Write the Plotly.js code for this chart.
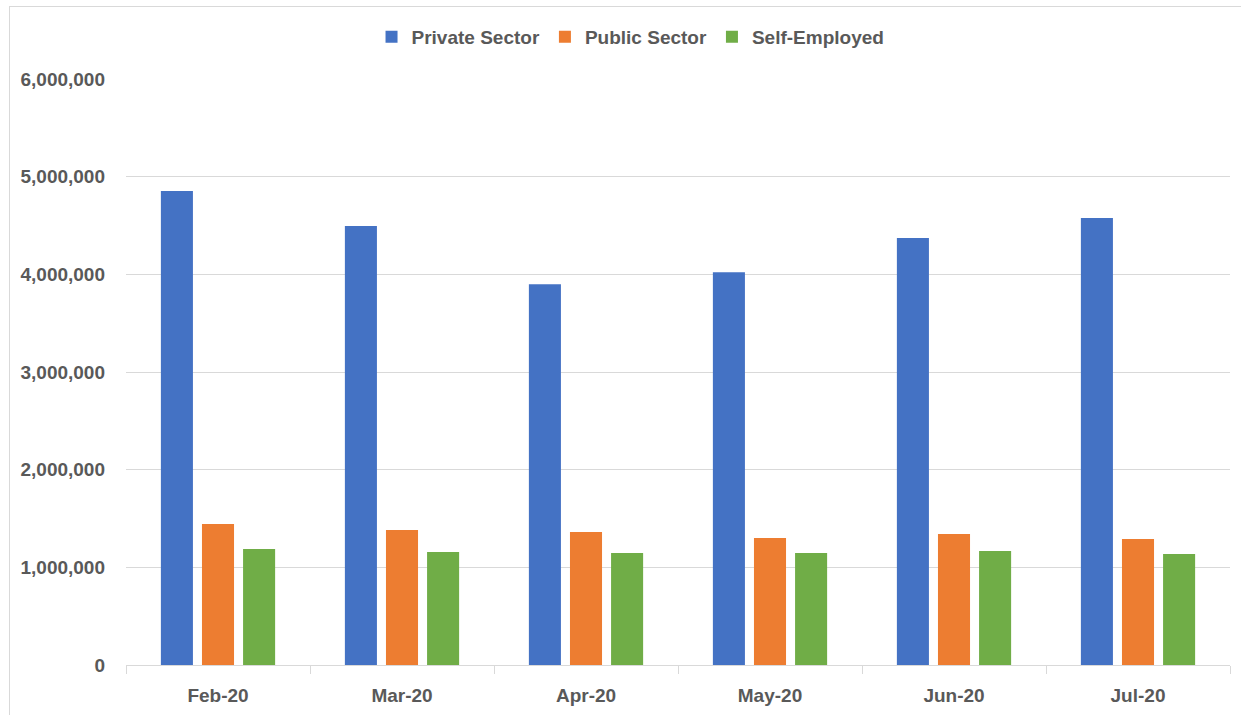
<!DOCTYPE html>
<html>
<head>
<meta charset="utf-8">
<script src="https://cdn.plot.ly/plotly-3.0.1.min.js"></script>
<style>
html,body{margin:0;padding:0;background:#fff;}
#frame{position:absolute;left:9px;top:6px;width:1300px;height:800px;border-left:1px solid #d9d9d9;border-top:1px solid #d9d9d9;pointer-events:none;}
#chart{position:absolute;left:0;top:0;width:1241px;height:715px;}
</style>
</head>
<body>
<div id="chart"></div>
<div id="frame"></div>
<script>
const months = ["Feb-20", "Mar-20", "Apr-20", "May-20", "Jun-20", "Jul-20"];
const privateSector = [4853000, 4495000, 3898000, 4022000, 4372000, 4577000];
const publicSector = [1444000, 1382000, 1362000, 1300000, 1341000, 1290000];
const selfEmployed = [1188000, 1157000, 1147000, 1147000, 1167000, 1136000];
const seriesNames = ["Private Sector", "Public Sector", "Self-Employed"];
const colors = ["#4472C4", "#ED7D31", "#70AD47"];

const font = {family: "Liberation Sans, Arial, sans-serif", size: 19, color: "#595959", weight: 700};

const traces = [privateSector, publicSector, selfEmployed].map((vals, i) => ({
  type: "bar",
  name: seriesNames[i],
  x: months,
  y: vals,
  marker: {color: colors[i], line: {width: 0}},
  hoverinfo: "x+y+name"
}));

const layout = {
  width: 1241,
  height: 715,
  margin: {l: 126, r: 11, t: 79, b: 50, pad: 0, autoexpand: false},
  paper_bgcolor: "#ffffff",
  plot_bgcolor: "#ffffff",
  font: font,
  barmode: "group",
  bargap: 0.33,
  bargroupgap: 0.22,
  showlegend: true,
  legend: {
    orientation: "h",
    x: 0.457, xanchor: "center",
    y: 1.072, yanchor: "middle",
    font: font,
    itemclick: false,
    traceorder: "normal"
  },
  xaxis: {
    type: "category",
    showgrid: false,
    showline: true,
    linecolor: "#d9d9d9",
    linewidth: 1,
    ticks: "outside",
    tickson: "boundaries",
    ticklen: 8,
    tickcolor: "#d9d9d9",
    tickfont: font,
    tickangle: 0,
    ticklabelstandoff: 13,
    zeroline: false,
    fixedrange: true
  },
  yaxis: {
    range: [0, 6000000],
    tickvals: [0, 1000000, 2000000, 3000000, 4000000, 5000000, 6000000],
    tickformat: ",d",
    showgrid: true,
    gridcolor: "#d9d9d9",
    gridwidth: 1,
    showline: false,
    zeroline: false,
    ticks: "",
    tickfont: font,
    ticklabelstandoff: 20,
    fixedrange: true
  }
};

Plotly.newPlot("chart", traces, layout, {displayModeBar: false});
</script>
</body>
</html>
